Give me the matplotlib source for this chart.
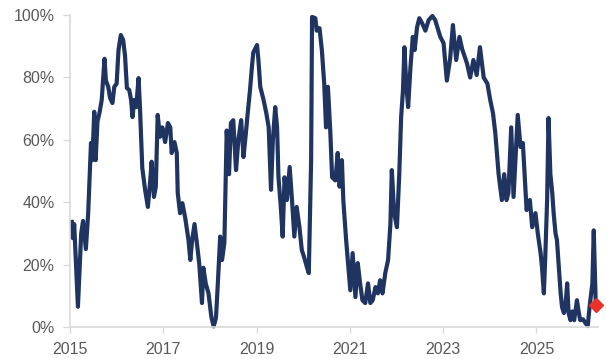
import matplotlib.pyplot as plt
from matplotlib.ticker import FuncFormatter

# decimal year / percentile (%)
DATES = [
    2015.04, 2015.06, 2015.09, 2015.17, 2015.24, 2015.28, 2015.34, 2015.39, 2015.45, 2015.48,
    2015.52, 2015.55, 2015.59, 2015.63, 2015.68, 2015.74, 2015.77, 2015.82, 2015.86, 2015.91,
    2015.95, 2016.00, 2016.04, 2016.09, 2016.14, 2016.18, 2016.22, 2016.27, 2016.31, 2016.34,
    2016.38, 2016.42, 2016.47, 2016.50, 2016.55, 2016.61, 2016.67, 2016.72, 2016.75, 2016.80,
    2016.84, 2016.88, 2016.93, 2016.98, 2017.04, 2017.10, 2017.15, 2017.18, 2017.24, 2017.29,
    2017.31, 2017.36, 2017.41, 2017.47, 2017.54, 2017.58, 2017.62, 2017.67, 2017.72, 2017.77,
    2017.83, 2017.86, 2017.91, 2017.97, 2018.03, 2018.08, 2018.13, 2018.17, 2018.22, 2018.26,
    2018.31, 2018.36, 2018.41, 2018.45, 2018.50, 2018.56, 2018.61, 2018.67, 2018.72, 2018.77,
    2018.81, 2018.86, 2018.90, 2018.93, 2019.01, 2019.04, 2019.08, 2019.15, 2019.21, 2019.26,
    2019.31, 2019.35, 2019.40, 2019.44, 2019.47, 2019.52, 2019.56, 2019.60, 2019.65, 2019.71,
    2019.76, 2019.81, 2019.86, 2019.92, 2019.97, 2020.02, 2020.08, 2020.12, 2020.17, 2020.19,
    2020.26, 2020.29, 2020.35, 2020.40, 2020.45, 2020.49, 2020.53, 2020.58, 2020.62, 2020.69,
    2020.74, 2020.78, 2020.83, 2020.86, 2020.92, 2020.97, 2021.01, 2021.06, 2021.12, 2021.17,
    2021.22, 2021.27, 2021.33, 2021.39, 2021.44, 2021.49, 2021.55, 2021.60, 2021.65, 2021.70,
    2021.76, 2021.82, 2021.87, 2021.90, 2021.95, 2022.01, 2022.06, 2022.10, 2022.14, 2022.17,
    2022.21, 2022.25, 2022.30, 2022.35, 2022.39, 2022.44, 2022.49, 2022.55, 2022.62, 2022.69,
    2022.77, 2022.83, 2022.90, 2022.94, 2023.01, 2023.08, 2023.15, 2023.21, 2023.28, 2023.35,
    2023.41, 2023.51, 2023.58, 2023.65, 2023.72, 2023.79, 2023.87, 2023.95, 2024.01, 2024.07,
    2024.12, 2024.19, 2024.26, 2024.31, 2024.36, 2024.40, 2024.46, 2024.51, 2024.60, 2024.66,
    2024.71, 2024.79, 2024.86, 2024.91, 2024.98, 2025.03, 2025.09, 2025.12, 2025.16, 2025.19,
    2025.23, 2025.26, 2025.30, 2025.34, 2025.37, 2025.41, 2025.44, 2025.48, 2025.52, 2025.55,
    2025.59, 2025.62, 2025.66, 2025.69, 2025.73, 2025.77, 2025.81, 2025.87, 2025.91, 2025.94,
    2026.00, 2026.05, 2026.10, 2026.14, 2026.20, 2026.23, 2026.27,
]
VALUES = [
    33.7, 28.5, 33.0, 6.5, 30.0, 34.0, 25.0, 36.5, 59.0, 53.5,
    69.0, 53.5, 66.0, 68.5, 72.8, 86.0, 79.0, 77.0, 73.4, 71.8,
    77.0, 78.0, 88.8, 93.6, 92.0, 87.0, 76.6, 76.0, 72.8, 67.3,
    72.8, 70.5, 79.8, 70.5, 51.0, 44.0, 38.5, 47.0, 53.0, 41.7,
    45.0, 68.0, 61.0, 64.0, 59.3, 65.4, 64.0, 55.8, 59.3, 55.8,
    43.0, 36.5, 39.7, 35.0, 28.0, 21.5, 28.0, 33.0, 27.0, 20.5,
    7.7, 19.0, 14.0, 10.8, 3.3, 0.2, 3.0, 14.0, 29.0, 21.5,
    27.0, 63.0, 49.0, 65.4, 66.3, 50.3, 60.0, 66.3, 54.5, 62.0,
    68.5, 76.0, 83.3, 88.0, 90.4, 85.6, 77.0, 72.8, 68.5, 64.0,
    44.0, 60.0, 70.5, 64.0, 48.0, 38.5, 29.0, 48.0, 40.7, 51.3,
    40.7, 29.0, 38.5, 32.0, 24.7, 22.4, 19.2, 17.3, 53.5, 99.4,
    99.0, 95.0, 95.8, 88.8, 78.2, 64.0, 77.0, 63.0, 48.0, 47.0,
    55.8, 45.0, 53.5, 40.7, 28.0, 19.2, 11.8, 23.7, 9.6, 20.5,
    14.0, 8.6, 7.7, 14.0, 7.7, 8.6, 12.8, 10.8, 15.0, 10.8,
    17.3, 21.5, 33.0, 50.3, 36.5, 32.0, 49.0, 67.3, 76.0, 89.7,
    78.0, 70.5, 83.3, 93.0, 88.8, 96.0, 99.0, 97.4, 95.0, 98.4,
    99.7, 98.4, 95.0, 93.0, 91.0, 79.0, 86.0, 96.8, 85.6, 93.0,
    89.0, 84.6, 80.0, 85.6, 80.8, 89.7, 80.0, 78.0, 72.8, 68.5,
    62.0, 49.0, 40.7, 49.0, 40.7, 43.0, 64.0, 41.7, 68.0, 57.7,
    59.0, 37.5, 40.7, 32.0, 36.5, 30.0, 23.7, 19.2, 10.8, 22.4,
    40.7, 67.0, 49.0, 43.0, 36.5, 30.0, 28.0, 19.2, 10.8, 6.4,
    4.5, 6.4, 14.0, 4.5, 2.2, 5.0, 2.2, 8.6, 4.5, 2.2,
    2.5, 1.3, 0.3, 6.4, 14.0, 31.0, 8.6,
]
LATEST_DATE = 2026.27
LATEST_VALUE = 7.0

X_TICKS = [2015, 2017, 2019, 2021, 2023, 2025]
Y_TICKS = [0, 20, 40, 60, 80, 100]

NAVY = "#1f3461"
RED = "#e8322a"
AXIS_GREY = "#d9d9d9"
TEXT_GREY = "#595959"

plt.rcParams["font.family"] = ["Liberation Sans", "DejaVu Sans"]

fig = plt.figure(figsize=(6.06, 3.59), dpi=100)
ax = fig.add_axes([0.1155, 0.089, 0.872, 0.869])

ax.plot(DATES, VALUES, color=NAVY, lw=3.0, solid_joinstyle="round", clip_on=False)
ax.plot([LATEST_DATE], [LATEST_VALUE], marker="D", ms=7.5, color=RED, lw=0,
        zorder=3, clip_on=False)

ax.set_xlim(2015, 2026.33)
ax.set_ylim(0, 100)
ax.set_xticks(X_TICKS)
ax.set_yticks(Y_TICKS)
ax.yaxis.set_major_formatter(FuncFormatter(lambda v, _: f"{v:.0f}%"))

for side in ("top", "right"):
    ax.spines[side].set_visible(False)
for side in ("left", "bottom"):
    ax.spines[side].set_color(AXIS_GREY)
    ax.spines[side].set_linewidth(1.2)

ax.tick_params(axis="both", colors=AXIS_GREY, labelcolor=TEXT_GREY, labelsize=11.5, width=1)
ax.tick_params(axis="y", length=5, pad=6)
ax.tick_params(axis="x", length=4, pad=7)

fig.savefig("out.png", dpi=100)
